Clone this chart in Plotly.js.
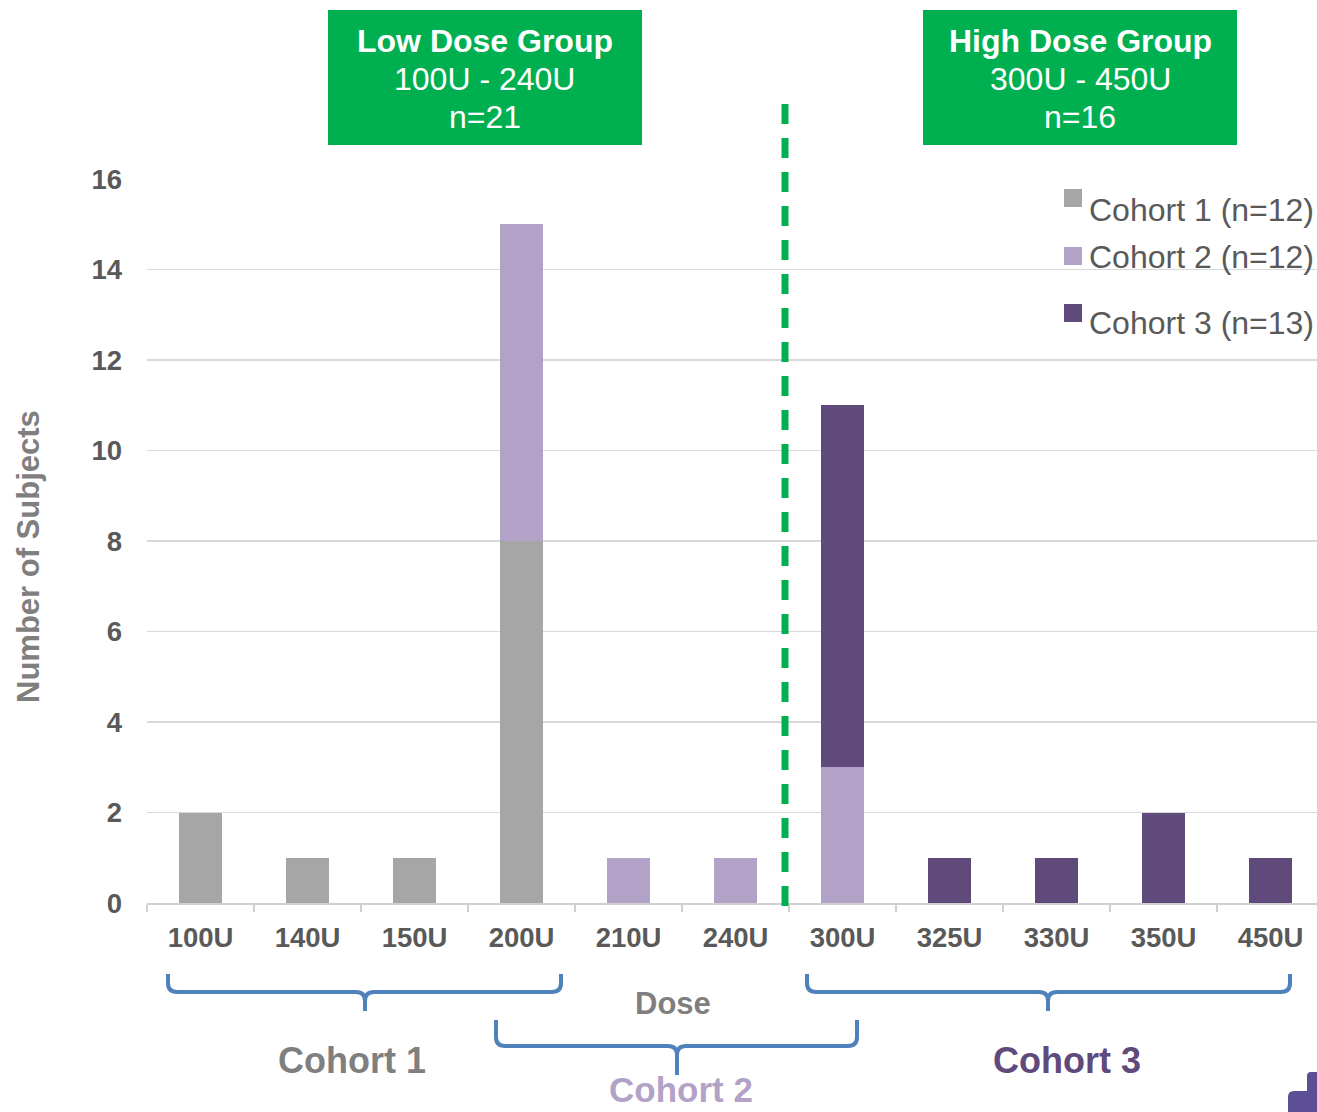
<!DOCTYPE html>
<html>
<head>
<meta charset="utf-8">
<script src="https://cdn.plot.ly/plotly-3.0.1.min.js"></script>
<style>
  html, body { margin: 0; padding: 0; background: #ffffff; }
  #chart { width: 1317px; height: 1112px; }
</style>
</head>
<body>
<div id="chart"></div>
<script>
// Dose levels on the x axis
const doses = ['100U', '140U', '150U', '200U', '210U', '240U', '300U', '325U', '330U', '350U', '450U'];

// Number of subjects per dose, by cohort
const cohort1 = [2, 1, 1, 8, 0, 0, 0, 0, 0, 0, 0];
const cohort2 = [0, 0, 0, 7, 1, 1, 3, 0, 0, 0, 0];
const cohort3 = [0, 0, 0, 0, 0, 0, 8, 1, 1, 2, 1];

const seriesNames = ['Cohort 1 (n=12)', 'Cohort 2 (n=12)', 'Cohort 3 (n=13)'];
const cohortLabels = ['Cohort 1', 'Cohort 2', 'Cohort 3'];
const groupLabels = [
  ['Low Dose Group', '100U - 240U', 'n=21'],
  ['High Dose Group', '300U - 450U', 'n=16']
];
const xTitle = 'Dose';
const yTitle = 'Number of Subjects';

const colors = ['#a6a6a6', '#b3a2c7', '#604a7b'];
const green = '#00b050';
const brace = '#4f81bd';
const FONT = 'Arial, "Liberation Sans", sans-serif';

// page geometry (pixels) of the plotting area
const W = 1317, H = 1112;
const L = 147, R = 1317, T = 179, B = 903;
const px = x => (x - L) / (R - L);
const py = y => (B - y) / (B - T);
const catWidth = 107;

const traces = [cohort1, cohort2, cohort3].map((vals, i) => ({
  type: 'bar',
  x: doses,
  y: vals,
  name: seriesNames[i],
  marker: { color: colors[i], line: { width: 0 } },
  hoverinfo: 'x+y+name',
  showlegend: false
}));

// curly bracket under a run of doses
function bracePath(x1, x2, xc, yTop, yMid, yTip) {
  const r = 9;
  const P = (x, y) => px(x).toFixed(5) + ',' + py(y).toFixed(5);
  return 'M' + P(x1, yTop) +
    ' L' + P(x1, yMid - r) +
    ' Q' + P(x1, yMid) + ' ' + P(x1 + r, yMid) +
    ' L' + P(xc - r, yMid) +
    ' Q' + P(xc, yMid) + ' ' + P(xc, yMid + r) +
    ' L' + P(xc, yTip) +
    ' M' + P(xc, yMid + r) +
    ' Q' + P(xc, yMid) + ' ' + P(xc + r, yMid) +
    ' L' + P(x2 - r, yMid) +
    ' Q' + P(x2, yMid) + ' ' + P(x2, yMid - r) +
    ' L' + P(x2, yTop);
}

function roundedCorner(x0, y0, x1, y1, r) {
  const P = (x, y) => px(x).toFixed(5) + ',' + py(y).toFixed(5);
  return 'M' + P(x0, y1) + ' L' + P(x0, y0 + r) + ' Q' + P(x0, y0) + ' ' + P(x0 + r, y0) +
    ' L' + P(x1, y0) + ' L' + P(x1, y1) + ' Z';
}

const shapes = [];
const annotations = [];

function label(x, y, text, size, color, extra) {
  annotations.push(Object.assign({
    xref: 'paper', yref: 'paper', x: px(x), y: py(y),
    xanchor: 'center', yanchor: 'middle', showarrow: false,
    text: text,
    font: { family: FONT, size: size, color: color }
  }, extra || {}));
}

// dose group boxes
const boxes = [[328, 642], [923, 1237]];
const boxLineY = [41, 79, 117];
boxes.forEach((b, i) => {
  shapes.push({
    type: 'rect', xref: 'paper', yref: 'paper',
    x0: px(b[0]), x1: px(b[1]), y0: py(145), y1: py(10),
    fillcolor: green, line: { width: 0 }, layer: 'above'
  });
  const g = groupLabels[i];
  const cx = (b[0] + b[1]) / 2;
  label(cx, boxLineY[0], '<b>' + g[0] + '</b>', 32, '#ffffff');
  label(cx, boxLineY[1], g[1], 32, '#ffffff');
  label(cx, boxLineY[2], g[2], 32, '#ffffff');
});

// divider between low and high dose groups
shapes.push({
  type: 'line', xref: 'paper', yref: 'paper',
  x0: px(785), x1: px(785), y0: py(104), y1: py(920),
  line: { color: green, width: 7, dash: '20px,14px' }, layer: 'above'
});

// cohort brackets
const braces = [
  [168, 561, 365, 974, 992, 1011],
  [496, 857, 677, 1020, 1046, 1075],
  [807, 1290, 1048, 974, 992, 1011]
];
braces.forEach(b => {
  shapes.push({
    type: 'path', xref: 'paper', yref: 'paper',
    path: bracePath(...b),
    line: { color: brace, width: 4 }
  });
});

// cohort labels under the brackets
const labelPos = [[352, 1060, 36], [681, 1089, 35], [1067, 1060, 36]];
const labelColors = ['#7f7f7f', '#b3a2c7', '#604a7b'];
cohortLabels.forEach((t, i) => {
  label(labelPos[i][0], labelPos[i][1], '<b>' + t + '</b>', labelPos[i][2], labelColors[i]);
});

// axis titles
label(673, 1003, '<b>' + xTitle + '</b>', 31, '#7f7f7f');
label(28, 557, '<b>' + yTitle + '</b>', 31, '#7f7f7f', { textangle: -90 });

// legend entries
const legendY = [[189, 210], [247, 257], [304, 323]];
seriesNames.forEach((n, i) => {
  shapes.push({
    type: 'rect', xref: 'paper', yref: 'paper',
    x0: px(1064), x1: px(1082), y0: py(legendY[i][0] + 18), y1: py(legendY[i][0]),
    fillcolor: colors[i], line: { width: 0 }
  });
  label(1087, legendY[i][1], n, 32, '#595959', { xanchor: 'left' });
});

// corner mark
shapes.push({
  type: 'path', xref: 'paper', yref: 'paper',
  path: roundedCorner(1288, 1091, 1317, 1112, 6),
  fillcolor: '#5c4f96', line: { width: 0 }
});
shapes.push({
  type: 'path', xref: 'paper', yref: 'paper',
  path: roundedCorner(1307, 1072, 1317, 1091, 4),
  fillcolor: '#5c4f96', line: { width: 0 }
});

const layout = {
  width: W, height: H,
  margin: { l: L, r: W - R, t: T, b: H - B, pad: 0 },
  paper_bgcolor: '#ffffff',
  plot_bgcolor: '#ffffff',
  barmode: 'stack',
  bargap: 0.59,
  showlegend: false,
  font: { family: FONT },
  xaxis: {
    type: 'category',
    range: [-0.5, -0.5 + (R - L) / catWidth],
    showgrid: false,
    zeroline: false,
    showline: true, linecolor: '#d0d0d0', linewidth: 1.5,
    ticks: 'outside', tickson: 'boundaries', ticklen: 7, tickcolor: '#d0d0d0', tickwidth: 1.5,
    tickfont: { family: FONT, size: 27.5, color: '#595959', weight: 'bold' },
    ticklabelstandoff: 9,
    fixedrange: true
  },
  yaxis: {
    range: [0, 16],
    dtick: 2,
    showgrid: true, gridcolor: '#d9d9d9', gridwidth: 1.5,
    zeroline: false, showline: false,
    ticks: '',
    tickfont: { family: FONT, size: 27.5, color: '#595959', weight: 'bold' },
    ticklabelstandoff: 24,
    fixedrange: true
  },
  shapes: shapes,
  annotations: annotations
};

Plotly.newPlot('chart', traces, layout, { displayModeBar: false, staticPlot: true });
</script>
</body>
</html>
